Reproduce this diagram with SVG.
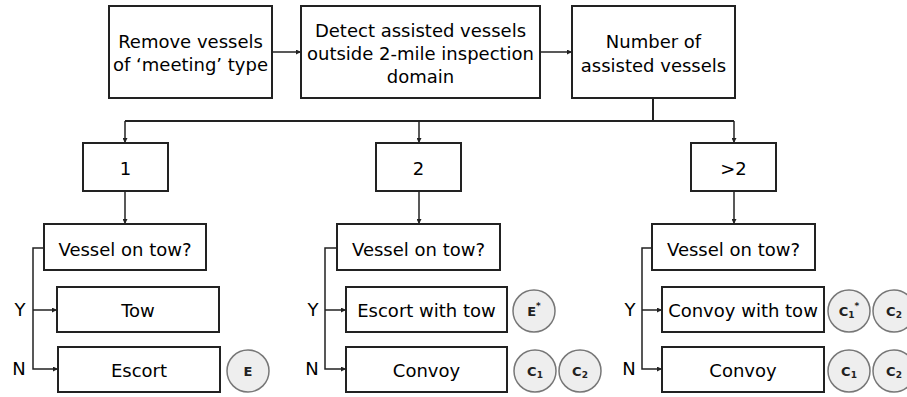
<svg xmlns="http://www.w3.org/2000/svg" width="907" height="397" viewBox="0 0 907 397">
<defs>
<marker id="ah" viewBox="0 0 6 6" refX="6" refY="3" markerWidth="5" markerHeight="5" markerUnits="userSpaceOnUse" orient="auto">
<path d="M0,0 L6,3 L0,6 z" fill="#222"/>
</marker>
<style>
.box{fill:#fff;stroke:#222;stroke-width:2}
.t{font-family:"DejaVu Sans",Verdana,sans-serif;font-size:18px;fill:#000;text-anchor:middle}
.lbl{font-family:"DejaVu Sans",Verdana,sans-serif;font-size:18px;fill:#000;text-anchor:middle}
.c{fill:#eeeeee;stroke:#777;stroke-width:1.5}
.ct{font-family:"DejaVu Sans",Verdana,sans-serif;font-size:13px;font-weight:bold;fill:#222;text-anchor:middle}
.sub{font-size:9px}
.ln{fill:none;stroke:#222;stroke-width:2}
.ar{fill:none;stroke:#222;stroke-width:1.5;marker-end:url(#ah)}
</style>
</defs>
<rect width="907" height="397" fill="#fff"/>

<g id="connectors">
<line class="ar" x1="272" y1="52" x2="301" y2="52"/>
<line class="ar" x1="540" y1="52" x2="572" y2="52"/>
<polyline class="ln" points="653,98 653,121 125,121"/>
<line class="ln" x1="653" y1="121" x2="734" y2="121"/>
<line class="ar" x1="125" y1="121" x2="125" y2="143"/>
<line class="ar" x1="419" y1="121" x2="419" y2="143"/>
<line class="ar" x1="734" y1="121" x2="734" y2="143"/>
<line class="ar" x1="125" y1="191" x2="125" y2="224"/>
<line class="ar" x1="419" y1="191" x2="419" y2="224"/>
<line class="ar" x1="734" y1="191" x2="734" y2="224"/>
<polyline class="ar" points="44,248 33,248 33,369 58,369"/>
<line class="ar" x1="33" y1="310" x2="57" y2="310"/>
<polyline class="ar" points="337,248 325,248 325,369 346,369"/>
<line class="ar" x1="325" y1="310" x2="346" y2="310"/>
<polyline class="ar" points="652,248 642,248 642,369 662,369"/>
<line class="ar" x1="642" y1="310" x2="662" y2="310"/>
</g>

<g id="remove">
<rect class="box" x="109" y="6" width="163" height="92"/>
<text class="t" x="190.5" y="48">Remove vessels</text>
<text class="t" x="190.5" y="71">of ‘meeting’ type</text>
</g>
<g id="detect">
<rect class="box" x="301" y="6" width="239" height="92"/>
<text class="t" x="420.5" y="37">Detect assisted vessels</text>
<text class="t" x="420.5" y="60">outside 2-mile inspection</text>
<text class="t" x="420.5" y="83">domain</text>
</g>
<g id="number">
<rect class="box" x="572" y="6" width="163" height="92"/>
<text class="t" x="653.5" y="48">Number of</text>
<text class="t" x="653.5" y="72">assisted vessels</text>
</g>

<g id="n1">
<rect class="box" x="83" y="143" width="85" height="48"/>
<text class="t" x="125.5" y="175">1</text>
</g>
<g id="n2">
<rect class="box" x="376" y="143" width="85" height="48"/>
<text class="t" x="418.5" y="175">2</text>
</g>
<g id="n3">
<rect class="box" x="691" y="143" width="85" height="48"/>
<text class="t" x="733.5" y="175">&gt;2</text>
</g>

<g id="q1">
<rect class="box" x="44" y="224" width="162" height="46"/>
<text class="t" x="125" y="256">Vessel on tow?</text>
</g>
<g id="q2">
<rect class="box" x="337" y="224" width="163" height="46"/>
<text class="t" x="418.5" y="256">Vessel on tow?</text>
</g>
<g id="q3">
<rect class="box" x="652" y="224" width="163" height="46"/>
<text class="t" x="733.5" y="256">Vessel on tow?</text>
</g>

<g id="yn">
<text class="lbl" x="20" y="316">Y</text>
<text class="lbl" x="19" y="375">N</text>
<text class="lbl" x="313" y="316">Y</text>
<text class="lbl" x="312" y="375">N</text>
<text class="lbl" x="630" y="316">Y</text>
<text class="lbl" x="629" y="375">N</text>
</g>

<g id="tow">
<rect class="box" x="57" y="287" width="162" height="45"/>
<text class="t" x="138" y="317">Tow</text>
</g>
<g id="escort">
<rect class="box" x="58" y="347" width="162" height="45"/>
<text class="t" x="139" y="377">Escort</text>
</g>
<g id="escortTow">
<rect class="box" x="346" y="287" width="161" height="45"/>
<text class="t" x="426.5" y="317">Escort with tow</text>
</g>
<g id="convoy2">
<rect class="box" x="346" y="347" width="161" height="45"/>
<text class="t" x="426.5" y="377">Convoy</text>
</g>
<g id="convoyTow">
<rect class="box" x="662" y="287" width="162" height="45"/>
<text class="t" x="743" y="317">Convoy with tow</text>
</g>
<g id="convoy3">
<rect class="box" x="662" y="347" width="162" height="45"/>
<text class="t" x="743" y="377">Convoy</text>
</g>

<g id="circE">
<circle class="c" cx="248" cy="371" r="21"/>
<text class="ct" x="248" y="376">E</text>
</g>
<g id="circEs">
<circle class="c" cx="534" cy="311" r="21"/>
<text class="ct" x="534" y="316">E<tspan class="sub" dy="-7">*</tspan></text>
</g>
<g id="circC1a">
<circle class="c" cx="535" cy="371" r="21"/>
<text class="ct" x="535" y="376">C<tspan class="sub" dy="2">1</tspan></text>
</g>
<g id="circC2a">
<circle class="c" cx="580" cy="371" r="21"/>
<text class="ct" x="580" y="376">C<tspan class="sub" dy="2">2</tspan></text>
</g>
<g id="circC1s">
<circle class="c" cx="849" cy="311" r="21"/>
<text class="ct" x="849" y="316">C<tspan class="sub" dy="2">1</tspan><tspan class="sub" dy="-9">*</tspan></text>
</g>
<g id="circC2b">
<circle class="c" cx="894" cy="311" r="21"/>
<text class="ct" x="894" y="316">C<tspan class="sub" dy="2">2</tspan></text>
</g>
<g id="circC1b">
<circle class="c" cx="849" cy="371" r="21"/>
<text class="ct" x="849" y="376">C<tspan class="sub" dy="2">1</tspan></text>
</g>
<g id="circC2c">
<circle class="c" cx="894" cy="371" r="21"/>
<text class="ct" x="894" y="376">C<tspan class="sub" dy="2">2</tspan></text>
</g>
</svg>
